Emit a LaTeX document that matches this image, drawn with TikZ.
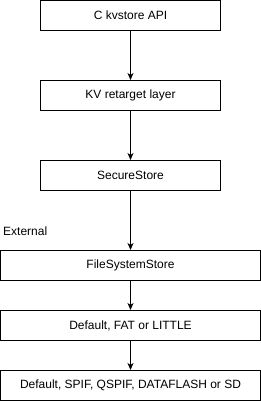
\documentclass[tikz,border=0pt]{standalone}
\usepackage{fontspec}
\setmainfont{Liberation Sans}
\usetikzlibrary{arrows.meta}
\begin{document}
\begin{tikzpicture}[x=1pt,y=-1pt,
  box/.style={draw=black,line width=1pt,inner sep=0pt,minimum height=30pt,font=\fontsize{12}{14}\selectfont},
  narrow/.style={box,minimum width=180pt},
  wide/.style={box,minimum width=260pt},
  conn/.style={line width=1pt,-{Stealth[length=7pt,width=6pt,inset=2pt]}}]
\useasboundingbox (0,0) rectangle (261,401);
\node[narrow] (api) at (130.5,15.5) {C kvstore API};
\node[narrow] (kv) at (130.5,95.5) {KV retarget layer};
\node[narrow] (ss) at (130.5,175.5) {SecureStore};
\node[wide] (fss) at (130.5,265.5) {FileSystemStore};
\node[wide] (fat) at (130.5,325.5) {Default, FAT or LITTLE};
\node[wide] (bd) at (130.5,385.5) {Default, SPIF, QSPIF, DATAFLASH or SD};
\node[anchor=west,inner sep=0pt,font=\fontsize{12}{14}\selectfont] (ext) at (3,231) {External};
\draw[conn] (api) -- (kv);
\draw[conn] (kv) -- (ss);
\draw[conn] (ss) -- (fss);
\draw[conn] (fss) -- (fat);
\draw[conn] (fat) -- (bd);
\end{tikzpicture}
\end{document}
